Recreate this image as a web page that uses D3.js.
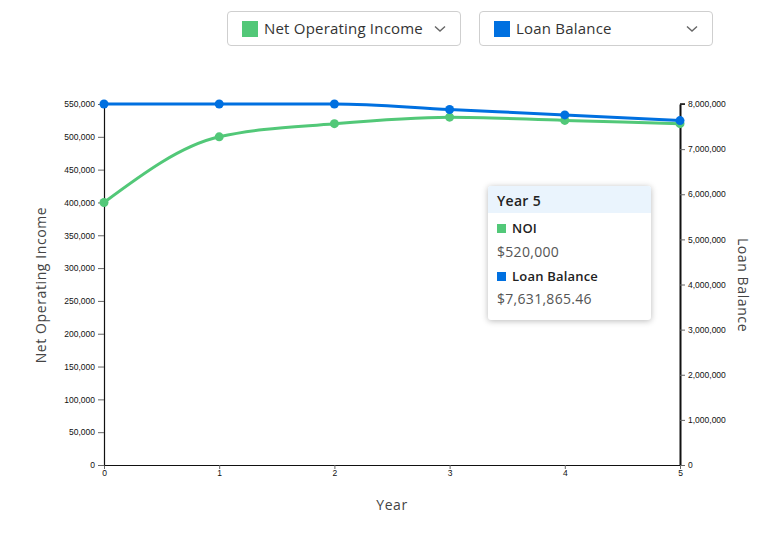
<!DOCTYPE html>
<html>
<head>
<meta charset="utf-8">
<script src="https://cdn.jsdelivr.net/npm/d3@7"></script>
<style>
  html, body { margin: 0; padding: 0; background: #fff; }
  body { width: 769px; height: 535px; position: relative; overflow: hidden; font-family: "Open Sans", "Noto Sans", sans-serif; }
  .dd { position: absolute; top: 11px; height: 35px; border: 1px solid #cfcfcf; border-radius: 4px; box-sizing: border-box; background: #fff; }
  .dd .sw { position: absolute; left: 14px; top: 9px; width: 16px; height: 16px; }
  .dd .lbl { position: absolute; left: 36px; top: 6px; font-size: 15px; color: #333; white-space: nowrap; letter-spacing: 0.2px; }
  .dd svg.chev { position: absolute; top: 13px; }
  .tt { position: absolute; left: 488px; top: 186px; width: 163px; height: 134px; background: #fff; border-radius: 3px; box-shadow: 0 1px 6px rgba(0,0,0,0.28); overflow: hidden; }
  .tt .hd { height: 27px; background: #eaf4fd; font-size: 14px; font-weight: 600; color: #222; padding-left: 9px; line-height: 29px; letter-spacing: 0.3px; }
  .tt .row { position: absolute; left: 9px; font-size: 13px; color: #222; font-weight: 600; letter-spacing: 0.2px; }
  .tt .row span.sq { display: inline-block; width: 9px; height: 9px; margin-right: 6px; }
  .tt .val { position: absolute; left: 9px; font-size: 14px; color: #555; letter-spacing: 0.3px; }
</style>
</head>
<body>
<div id="dd1" class="dd" style="left:227px; width:234px;"></div>
<div id="dd2" class="dd" style="left:479px; width:234px;"></div>
<svg id="chart" width="769" height="535" style="position:absolute;left:0;top:0"></svg>
<div id="tt" class="tt"></div>
<script>
const years = [0, 1, 2, 3, 4, 5];
const noi = [400000, 500000, 520000, 530000, 525000, 520000];
const loanBalance = [8000000, 8000000, 8000000, 7878000, 7758000, 7631865.46];
const leftTicks = [0, 50000, 100000, 150000, 200000, 250000, 300000, 350000, 400000, 450000, 500000, 550000];
const rightTicks = [0, 1000000, 2000000, 3000000, 4000000, 5000000, 6000000, 7000000, 8000000];
const seriesNames = ["Net Operating Income", "Loan Balance"];
const tooltipYear = 5;

const green = "#52c878", blue = "#0070e0";

// dropdowns
[["#dd1", seriesNames[0], green], ["#dd2", seriesNames[1], blue]].forEach(([id, name, col]) => {
  const d = d3.select(id);
  d.append("div").attr("class", "sw").style("background", col);
  d.append("div").attr("class", "lbl").text(name);
  const s = d.append("svg").attr("class", "chev").attr("width", 12).attr("height", 8).style("left", "206px");
  s.append("path").attr("d", "M1,1.5 L6,6 L11,1.5").attr("fill", "none").attr("stroke", "#666").attr("stroke-width", 1.4);
});

const svg = d3.select("#chart");
const x = d3.scaleLinear().domain([0, 5]).range([104, 680]);
const yL = d3.scaleLinear().domain([0, 550000]).range([465, 104]);
const yR = d3.scaleLinear().domain([0, 8000000]).range([465, 104]);

const fmt = d3.format(",");

const gx = svg.append("g").attr("transform", "translate(0,465)")
  .call(d3.axisBottom(x).tickValues(years).tickFormat(d3.format("d")).tickSize(4).tickSizeOuter(0));
const gl = svg.append("g").attr("transform", "translate(104,0)")
  .call(d3.axisLeft(yL).tickValues(leftTicks).tickFormat(fmt).tickSize(6).tickSizeOuter(0));
const gr = svg.append("g").attr("transform", "translate(680,0)")
  .call(d3.axisRight(yR).tickValues(rightTicks).tickFormat(fmt).tickSize(5).tickSizeOuter(0));

[gx, gl, gr].forEach(g => {
  g.selectAll("text").style("font-family", "Liberation Sans, Arial, sans-serif").style("font-size", "8.5px").attr("fill", "#111");
  g.selectAll(".tick line").attr("stroke", "#666");
  g.select(".domain").attr("stroke", "#111").attr("stroke-width", 1.2);
});
gr.select(".domain").attr("stroke-width", 2);
gr.append("path").attr("d", "M0,104H5").attr("stroke", "#111").attr("stroke-width", 1.5).attr("fill", "none");
gx.selectAll("text").attr("dy", "0.5em");

// axis titles
svg.append("text").attr("transform", "translate(46,285) rotate(-90)").attr("text-anchor", "middle")
  .style("font-size", "14px").style("letter-spacing", "0.6px").attr("fill", "#444").text("Net Operating Income");
svg.append("text").attr("transform", "translate(738,285) rotate(90)").attr("text-anchor", "middle")
  .style("font-size", "14px").style("letter-spacing", "0.6px").attr("fill", "#444").text("Loan Balance");
svg.append("text").attr("x", 392).attr("y", 510).attr("text-anchor", "middle")
  .style("font-size", "14px").style("letter-spacing", "0.6px").attr("fill", "#444").text("Year");

// lines
const lineL = d3.line().x((d, i) => x(years[i])).y(d => yL(d)).curve(d3.curveMonotoneX);
const lineR = d3.line().x((d, i) => x(years[i])).y(d => yR(d)).curve(d3.curveMonotoneX);

svg.append("path").datum(noi).attr("d", lineL).attr("fill", "none").attr("stroke", green).attr("stroke-width", 3);
svg.append("g").selectAll("circle").data(noi).join("circle")
  .attr("cx", (d, i) => x(years[i])).attr("cy", d => yL(d)).attr("r", 4.5).attr("fill", green);

svg.append("path").datum(loanBalance).attr("d", lineR).attr("fill", "none").attr("stroke", blue).attr("stroke-width", 3);
svg.append("g").selectAll("circle").data(loanBalance).join("circle")
  .attr("cx", (d, i) => x(years[i])).attr("cy", d => yR(d)).attr("r", 4.5).attr("fill", blue);

// tooltip
const ti = years.indexOf(tooltipYear);
const tt = d3.select("#tt");
tt.append("div").attr("class", "hd").text("Year " + tooltipYear);
tt.append("div").attr("class", "row").style("top", "33px").html(`<span class="sq" style="background:${green}"></span>NOI`);
tt.append("div").attr("class", "val").style("top", "56px").text("$" + d3.format(",")(noi[ti]));
tt.append("div").attr("class", "row").style("top", "81px").html(`<span class="sq" style="background:${blue}"></span>Loan Balance`);
tt.append("div").attr("class", "val").style("top", "103px").text("$" + d3.format(",.2f")(loanBalance[ti]));
</script>
</body>
</html>
